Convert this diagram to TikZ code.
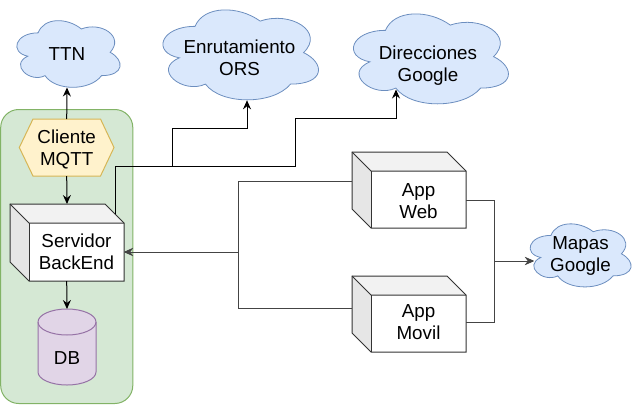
\documentclass[tikz,border=0pt]{standalone}
\usepackage{fontspec}
\setmainfont{Liberation Sans}
\usetikzlibrary{arrows.meta}
\definecolor{cloudF}{HTML}{DAE8FC}
\definecolor{cloudD}{HTML}{6C8EBF}
\definecolor{grnF}{HTML}{D5E8D4}
\definecolor{grnD}{HTML}{82B366}
\definecolor{hexF}{HTML}{FFF2CC}
\definecolor{hexD}{HTML}{D6B656}
\definecolor{dbF}{HTML}{E1D5E7}
\definecolor{dbD}{HTML}{9673A6}
\definecolor{cubeTop}{HTML}{F2F2F2}
\definecolor{cubeLeft}{HTML}{E6E6E6}
\definecolor{cubeD}{HTML}{333333}
\definecolor{lineG}{HTML}{444444}
\tikzset{
  cloudst/.style={fill=cloudF,draw=cloudD,line width=0.8pt},
  txt/.style={font=\fontsize{18.8}{21.6}\selectfont,align=center,text height=13.5pt,text depth=0pt,inner sep=0pt,outer sep=0pt},
  txttwo/.style={txt,text height=35.1pt},
  box/.style={txttwo,rectangle,minimum width=#1,minimum height=57pt},
  arr/.style={line width=1pt,-{Stealth[length=9pt,width=8pt,inset=3pt]}},
  arrg/.style={arr,draw=lineG},
  cubest/.style={draw=cubeD,line width=1pt,line join=miter}
}
\newcommand\dcloud[4]{%
  \begin{scope}[shift={(#1,#2)},x=#3pt,y=-#4pt]
  \filldraw[cloudst] (0.25,0.25) .. controls (0.05,0.25) and (0,0.5) .. (0.16,0.55)
   .. controls (0,0.66) and (0.18,0.9) .. (0.31,0.8)
   .. controls (0.4,1) and (0.7,1) .. (0.8,0.8)
   .. controls (1,0.8) and (1,0.6) .. (0.875,0.5)
   .. controls (1,0.3) and (0.8,0.1) .. (0.625,0.2)
   .. controls (0.5,0.05) and (0.3,0.05) .. (0.25,0.25) -- cycle;
  \end{scope}}
% x0 y0 w h d
\newcommand\dcube[5]{%
  \fill[cubeTop] (#1,#2) -- (#1+#3-#5,#2) -- (#1+#3,#2+#5) -- (#1+#5,#2+#5) -- cycle;
  \fill[cubeLeft] (#1,#2) -- (#1+#5,#2+#5) -- (#1+#5,#2+#4) -- (#1,#2+#4-#5) -- cycle;
  \fill[white] (#1+#5,#2+#5) rectangle (#1+#3,#2+#4);
  \draw[cubest] (#1,#2) -- (#1+#3-#5,#2) -- (#1+#3,#2+#5) -- (#1+#3,#2+#4) -- (#1+#5,#2+#4) -- (#1,#2+#4-#5) -- cycle;
  \draw[cubest] (#1,#2) -- (#1+#5,#2+#5) -- (#1+#3,#2+#5);
  \draw[cubest] (#1+#5,#2+#5) -- (#1+#5,#2+#4);}
\begin{document}
\begin{tikzpicture}[x=1pt,y=-1pt]
\useasboundingbox (0,0) rectangle (638,405);
% container
\filldraw[fill=grnF,draw=grnD,line width=1pt,rounded corners=18pt] (0.7,109.5) rectangle (132.8,403.5);
% clouds
\dcloud{9.3}{13.4}{115.3}{77.8}
\dcloud{151.6}{0.1}{173.7}{105}
\dcloud{342.2}{4.1}{173}{105}
\dcloud{522.8}{217}{112.7}{73.6}
% hexagon
\filldraw[fill=hexF,draw=hexD,line width=1pt] (19.3,147.5) -- (33,119) -- (100.5,119) -- (114,147.5) -- (100.5,176) -- (33,176) -- cycle;
% cubes
\dcube{10}{204}{114}{77}{19}
\dcube{352}{152}{114}{76}{19}
\dcube{352}{276}{114}{76}{19}
% cylinder
\filldraw[fill=dbF,draw=dbD,line width=1pt] (38,322) -- (38,372) arc[start angle=180,end angle=360,x radius=29,y radius=-13] -- (96,322) arc[start angle=0,end angle=180,x radius=29,y radius=-13] -- cycle;
\draw[dbD,line width=1pt] (38,322) arc[start angle=180,end angle=360,x radius=29,y radius=-13];
% text nodes
\node[txt] (ttn) at (67,53.3) {TTN};
\node[txttwo] (ors) at (239.5,58) {Enrutamiento\\ORS};
\node[txttwo] (dir) at (428,63.5) {Direcciones\\Google};
\node[txttwo] (map) at (580.5,253.5) {Mapas\\Google};
\node[box=95pt] (mqtt) at (66.7,147.5) {Cliente\\MQTT};
\node[box=95pt,minimum height=58pt] (srv) at (76.5,252) {Servidor\\BackEnd};
\node[box=95pt] (web) at (418.5,200.5) {App\\Web};
\node[box=95pt] (mov) at (418.5,322) {App\\Movil};
\node[txt,text height=34.5pt,minimum width=58pt,minimum height=76pt] (db) at (67,347) {DB};
% connector end points on clouds
\coordinate (ttnb) at (67,87.5);
\coordinate (orsb) at (247,100.3);
\coordinate (dirb) at (396,89.5);
\coordinate (mapl) at (534,261);
\coordinate (srvtop) at (67,204);
\coordinate (srvout) at (115,214);
\coordinate (webl) at (352,181);
\coordinate (movl) at (352,308);
% connectors
\draw[arr] (mqtt.north) -- (ttnb);
\draw[arr] (mqtt.south) -- (srvtop);
\draw[arr] (mqtt.south |- srv.south) -- (db.north);
\draw[arr] (srvout) |- (172,166) |- (247,128) -- (orsb);
\draw[arr] (srvout) |- (295,166) |- (396,118) -- (dirb);
\draw[arrg] (webl) -| (238,252) -- (srv.east);
\draw[arrg] (movl) -| (238,252) -- (srv.east);
\draw[arrg] (web.east) -| (494,261) -- (mapl);
\draw[arrg] (mov.east) -| (494,261) -- (mapl);
\end{tikzpicture}
\end{document}
